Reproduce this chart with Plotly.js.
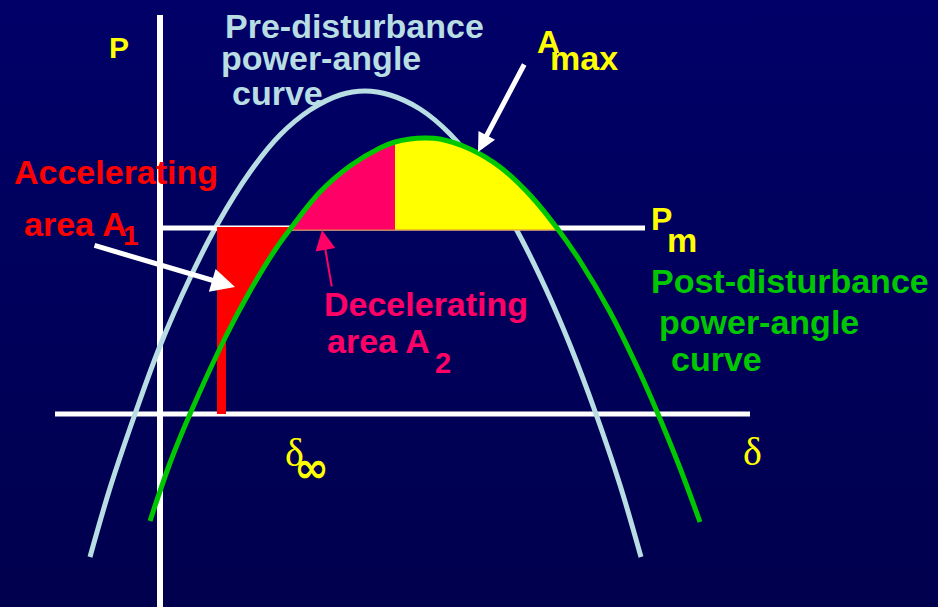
<!DOCTYPE html>
<html><head><meta charset="utf-8">
<script src="https://cdn.plot.ly/plotly-3.0.1.min.js"></script>
<style>
html,body{margin:0;padding:0;width:938px;height:607px;overflow:hidden;background:linear-gradient(#000068,#00004e);}
#chart{width:938px;height:607px;}
</style>
</head><body><div id="chart"></div>
<script>
// Pre-disturbance power-angle curve (delta, P) in diagram units
const preDelta = [-70, -50, -25, 0, 30, 57, 90, 120, 150, 180, 205, 230, 260, 290, 320, 355, 385, 410, 436, 460, 481];
const preP     = [-143, -74, 0, 68, 136, 189, 242, 279, 304, 319, 323, 319, 305, 280, 243, 187, 127, 69, 0, -71, -143];
// Post-disturbance power-angle curve
const postDelta = [-10, 10, 30, 66, 90, 115, 131, 160, 190, 220, 235, 250, 264, 280, 310, 340, 370, 397, 420, 450, 480, 498, 520, 540];
const postP     = [-107, -49, 0, 78, 123, 164, 186, 222, 248, 266, 272, 275, 276, 275, 265, 247, 219, 186, 153, 102, 41, 0, -54, -108];
// Mechanical power level and its line extent
const pmLevel = 186;
const pmLineDelta = [0, 485];
// Axes extents
const deltaAxisDelta = [-105, 590];
const powerAxisP = [-193, 399];
// Accelerating-area left edge (bar) and decel split angle
const barDelta = [57, 66];
const splitDelta = 235;
const crossLeft = 131, crossRight = 397;

const WHITE = '#ffffff', PRE = '#b8dde3', POST = '#00c800', RED = '#ff0000', PINK = '#ff0066', YEL = '#ffff00';

function seg(lo, hi){
  const xs=[], ys=[];
  postDelta.forEach((d,i)=>{ if(d>=lo && d<=hi){ xs.push(d); ys.push(postP[i]); } });
  return [xs, ys];
}
const [g1x, g1y] = seg(barDelta[1], crossLeft);
const redX = [barDelta[0]].concat(g1x.slice().reverse(), [barDelta[1], barDelta[1], barDelta[0]]);
const redY = [pmLevel+1].concat(g1y.slice().reverse().map((v,i)=> i===0? pmLevel+1 : v), [0, 0, 0]);
const [g2x, g2y] = seg(crossLeft, splitDelta);
const pinkX = g2x.concat([splitDelta, crossLeft]);
const pinkY = g2y.concat([pmLevel-2, pmLevel-2]);
const [g3x, g3y] = seg(splitDelta, crossRight);
const yelX = g3x.concat([crossRight, splitDelta]);
const yelY = g3y.concat([pmLevel-2, pmLevel-2]);

const noHover = {hoverinfo:'skip', showlegend:false};
const traces = [
  Object.assign({x: deltaAxisDelta, y:[0,0], mode:'lines', line:{color:WHITE, width:5}}, noHover),
  Object.assign({x: [0,0], y: powerAxisP, mode:'lines', line:{color:WHITE, width:6}}, noHover),
  Object.assign({x: preDelta, y: preP, mode:'lines', line:{color:PRE, width:5, shape:'spline', smoothing:1}}, noHover),
  Object.assign({x: pmLineDelta, y:[pmLevel, pmLevel], mode:'lines', line:{color:WHITE, width:5}}, noHover),
  Object.assign({x: redX, y: redY, mode:'lines', fill:'toself', fillcolor:RED, line:{width:0, color:RED}}, noHover),
  Object.assign({x: pinkX, y: pinkY, mode:'lines', fill:'toself', fillcolor:PINK, line:{width:0, color:PINK}}, noHover),
  Object.assign({x: yelX, y: yelY, mode:'lines', fill:'toself', fillcolor:YEL, line:{width:0, color:YEL}}, noHover),
  Object.assign({x: [crossLeft, crossRight], y:[pmLevel-2, pmLevel-2], mode:'lines', line:{color:'#e08a3a', width:1.2}}, noHover),
  Object.assign({x: postDelta, y: postP, mode:'lines', line:{color:POST, width:5, shape:'spline', smoothing:1}}, noHover)
];

const SANS = 'Liberation Sans, Arial, sans-serif';
const SERIF = 'Liberation Serif, Times New Roman, serif';
function lab(text, x, y, size, color, family){
  return {text: text, x: x, y: y, xref:'x', yref:'y', showarrow:false, xanchor:'left', yanchor:'middle',
          font:{family: family||SANS, size:size, color:color}, borderpad:0};
}
function arrow(tipX, tipY, tailX, tailY, color, width, head, size){
  return {text:'', x: tipX, y: tipY, ax: tailX, ay: tailY, xref:'x', yref:'y', axref:'x', ayref:'y',
          showarrow:true, arrowhead: head, arrowsize: size, arrowwidth: width, arrowcolor: color, standoff:0, startstandoff:0};
}
const annotations = [
  lab('<b>P</b>', -52, 367, 30, YEL),
  lab('<b>Pre-disturbance</b>', 64, 388, 34, PRE),
  lab('<b>power-angle</b>', 60, 356, 34, PRE),
  lab('<b>curve</b>', 71, 321, 34, PRE),
  lab('<b>Accelerating</b>', -147, 242, 34, RED),
  lab('<b>area A</b>', -137, 190, 34, RED),
  lab('<b>1</b>', -38, 179, 28, RED),
  lab('<b>P</b>', 490, 195, 32, YEL),
  lab('<b>m</b>', 506, 174, 34, YEL),
  lab('<b>Post-disturbance</b>', 490, 133, 34, POST),
  lab('<b>power-angle</b>', 498, 92, 34, POST),
  lab('<b>curve</b>', 510, 55, 34, POST),
  lab('<b>Decelerating</b>', 163, 110, 34, PINK),
  lab('<b>area A</b>', 166, 73, 34, PINK),
  lab('<b>2</b>', 274, 51, 29, PINK),
  lab('<b>A</b>', 376, 372, 32, YEL),
  lab('<b>max</b>', 389, 356, 34, YEL),
  lab('δ', 582, -37, 40, YEL, SERIF),
  lab('δ', 124, -38, 40, YEL, SERIF),
  lab('<b>∞</b>', 133, -53, 42, YEL, 'DejaVu Sans, sans-serif'),
  arrow(318, 262, 365, 351, WHITE, 5, 2, 0.75),
  arrow(75, 127, -67, 169, WHITE, 5, 2, 0.95),
  arrow(162, 184, 172, 126, PINK, 2, 2, 2)
];

const layout = {
  width:938, height:607, margin:{l:0,r:0,t:0,b:0,pad:0},
  paper_bgcolor:'rgba(0,0,0,0)', plot_bgcolor:'rgba(0,0,0,0)',
  xaxis:{range:[-160, 778], visible:false, fixedrange:true},
  yaxis:{range:[-193, 414], visible:false, fixedrange:true},
  showlegend:false, hovermode:false,
  annotations: annotations
};
Plotly.newPlot('chart', traces, layout, {displayModeBar:false, staticPlot:true});
</script>
</body></html>
